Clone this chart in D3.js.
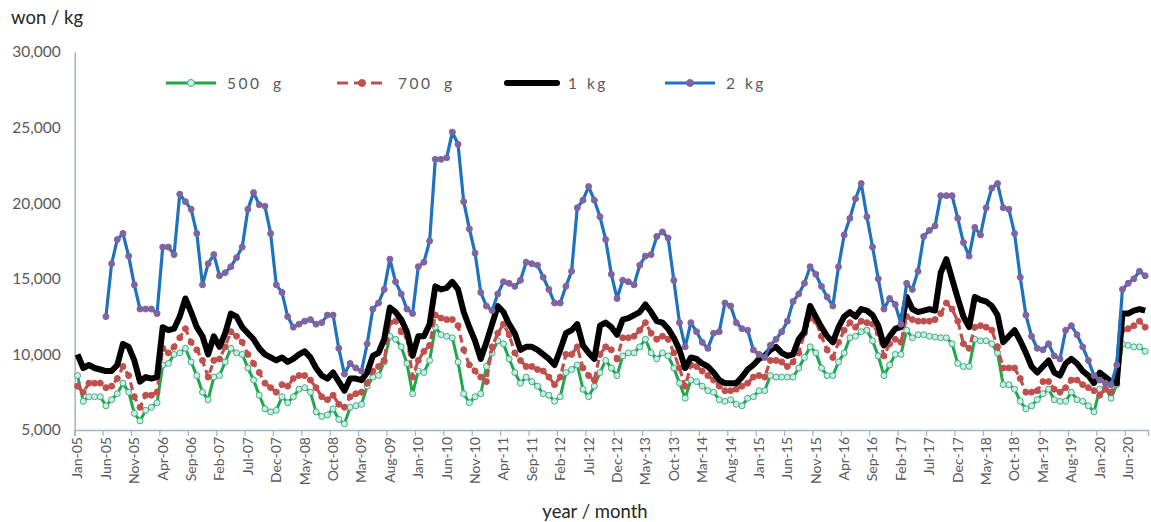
<!DOCTYPE html>
<html>
<head>
<meta charset="utf-8">
<script src="https://cdn.jsdelivr.net/npm/d3@7/dist/d3.min.js"></script>
<style>
  body { margin: 0; background: #fff; }
  text { font-family: Lato, "Open Sans", sans-serif; }
</style>
</head>
<body>
<div id="chart"></div>
<script>
const monthNames = ["Jan","Feb","Mar","Apr","May","Jun","Jul","Aug","Sep","Oct","Nov","Dec"];
const yearLabels = ["05","06","07","08","09","10","11","12","13","14","15","16","17","18","19","20"];

// Jan-05 .. Sep-20
const months = [];
yearLabels.forEach(yy => monthNames.forEach(m => months.push(m + "-" + yy)));
months.splice(months.indexOf("Sep-20") + 1);

const tickLabels = ["Jan-05","Jun-05","Nov-05","Apr-06","Sep-06","Feb-07","Jul-07","Dec-07","May-08","Oct-08",
  "Mar-09","Aug-09","Jan-10","Jun-10","Nov-10","Apr-11","Sep-11","Feb-12","Jul-12","Dec-12","May-13","Oct-13",
  "Mar-14","Aug-14","Jan-15","Jun-15","Nov-15","Apr-16","Sep-16","Feb-17","Jul-17","Dec-17","May-18","Oct-18",
  "Mar-19","Aug-19","Jan-20","Jun-20"];

const yTicks = [5000, 10000, 15000, 20000, 25000, 30000];

const price500g = [
  8600,6900,7200,7200,7200,6600,7000,7400,8100,7500,6100,5600,6300,6500,6800,9300,9400,10000,10100,10400,
  9500,8600,7500,7000,8500,8600,9500,10400,10100,10000,9100,8300,7300,6400,6200,6300,7200,6800,7200,7700,
  7800,7500,6200,5900,6000,6400,5700,5400,6500,6600,6700,7900,8500,8600,9500,11200,11000,10500,9400,7400,
  8900,8800,9600,11800,11300,11200,11100,9500,7400,6800,7200,7400,9200,10100,10900,10700,9700,8800,8100,8500,
  8200,7900,7400,7300,6900,7200,8800,9000,9300,7700,7200,7900,8800,9600,9100,8600,9900,10100,10100,10500,
  11000,10100,9700,10100,9900,9100,8100,7100,8300,8200,7900,7600,7500,7000,6900,7000,6700,6600,7100,7200,
  7600,7600,8600,8500,8500,8500,8500,9100,9800,10500,10100,9100,8600,8600,9500,10100,11100,11200,11500,11600,
  10900,9900,8600,9300,10000,10000,11600,11100,11300,11300,11200,11150,11100,11100,10700,9400,9200,9200,11000,10900,
  10900,10700,10100,8000,8000,7700,6900,6400,6600,7000,7400,7700,7000,6900,6900,7500,7000,6900,6600,6200,
  7700,7800,7100,8000,10700,10600,10500,10500,10200
];

const price700g = [
  7900,7500,8100,8100,8100,7800,7900,8400,9200,8600,7200,6500,7300,7300,7500,10400,10100,10500,11100,11700,
  10800,10300,9600,8500,9600,9700,10500,11500,11200,10800,10000,9400,8800,8100,7800,7500,8000,7900,8400,8600,
  8600,8300,7800,7200,7000,7300,6700,6500,7200,7400,7500,8100,8900,9200,9600,12100,12200,11500,11200,8500,
  9600,10200,10600,12600,12400,12300,12300,11900,10300,9300,8900,8500,8200,10500,11400,12000,11300,10100,9600,9200,
  9200,9000,8900,8500,8000,8500,10000,10000,10500,9100,8600,8300,10000,10500,10300,9700,11100,11100,11200,11600,
  12100,11400,11000,11200,11000,10100,9100,7900,9300,9200,8900,8600,8300,7900,7600,7600,7700,7900,8100,8500,
  8600,8500,9600,9600,9500,9200,9500,10100,11400,12400,12200,11200,10300,9800,10800,11600,12100,11800,12200,12100,
  12000,11400,9900,10700,11000,10800,12500,12300,12200,12200,12200,12300,12700,13400,13000,12200,10700,10400,11800,11900,
  11800,11600,10500,9100,9100,9100,8400,7500,7500,7600,8200,8200,7700,7500,7800,8300,8300,8000,7800,7600,
  7300,7700,7500,8100,11600,11700,11900,12200,11800
];

const price1kg = [
  10000,9100,9300,9100,9000,8900,8900,9300,10700,10500,9600,8200,8500,8400,8500,11800,11600,11700,12500,13700,
  12800,11800,11200,10000,11200,10500,11400,12700,12500,11800,11400,11000,10400,10000,9800,9600,9800,9500,9700,10000,
  10200,9800,9100,8600,8400,8800,8200,7600,8400,8400,8300,8800,9900,10100,11000,13100,12800,12300,11500,9900,
  11200,11200,12000,14500,14300,14400,14800,14300,12800,11800,10900,9700,10800,12000,13200,12800,12000,11400,10300,10500,
  10500,10300,10000,9700,9300,10300,11400,11600,12000,10600,10100,9700,11900,12100,11800,11300,12300,12400,12600,12800,
  13300,12800,12200,12100,11700,11100,10300,9100,9800,9700,9400,9200,8800,8300,8100,8100,8100,8500,9000,9300,
  9700,9900,10300,10500,10100,9900,10000,11000,11500,13200,12500,11800,11200,10800,11800,12500,12800,12500,13000,12900,
  12600,11900,10600,11200,11700,11800,13800,13000,12800,12900,13000,12900,15400,16300,15000,13700,12500,11800,13800,13600,
  13500,13200,12600,10800,11200,11600,10900,10100,9200,8800,9200,9600,8800,8600,9400,9700,9400,8900,8600,8100,
  8800,8500,8200,8100,12700,12700,12900,13000,12900
];

const price2kg = [
  null,null,null,null,null,12500,16000,17600,18000,16500,14600,13000,13000,13000,12700,17100,17100,16600,20600,20100,
  19600,18000,14600,16000,16600,15200,15400,15800,16400,17100,19600,20700,19900,19800,18000,14600,14100,12500,11800,12000,
  12200,12300,12000,12100,12600,12600,10400,8700,9400,9100,8900,10700,13000,13400,14300,16300,14800,14000,13000,12700,
  15800,16100,17500,22900,22900,23000,24700,23900,20100,18300,16700,14100,13200,12900,14000,14800,14700,14500,14900,16100,
  16000,15900,15100,14300,13400,13400,14500,15500,19700,20200,21100,20200,19100,17600,15300,13700,14900,14800,14600,15900,
  16500,16600,17800,18100,17700,14900,12100,10500,12100,11500,10800,10400,11400,11500,13400,13200,12100,11700,11600,10300,
  10000,9800,10600,11000,11500,12200,13500,14000,14700,15800,15300,14500,13800,13200,15800,17900,19000,20300,21300,19100,
  17100,15000,13000,13700,13300,12000,14700,14300,15500,17800,18200,18500,20500,20500,20500,19000,17400,16500,18400,17900,
  19700,21000,21300,19700,19600,18000,15100,12600,11200,10400,10300,10700,9900,9700,11600,11900,11300,10500,9600,8600,
  8300,8100,8000,9300,14300,14700,15000,15500,15200
];

const width = 1151, height = 522;
const plotLeft = 74.7, plotRight = 1148, plotTop = 52, plotBottom = 430;
const axisColor = "#9fb4c8", labelColor = "#595959";

const svg = d3.select("#chart")
  .append("svg")
  .attr("width", width)
  .attr("height", height);

const x = d3.scaleBand()
  .domain(months)
  .range([plotLeft, plotRight])
  .padding(0);
const bw = x.bandwidth();
const cx = i => x(months[i]) + bw / 2;

const y = d3.scaleLinear()
  .domain([5000, 30000])
  .range([plotBottom, plotTop]);

// Titles
svg.append("text")
  .attr("x", 11).attr("y", 24)
  .style("font-size", "18.5px").style("fill", "#262626")
  .text("won / kg");

svg.append("text")
  .attr("x", 595).attr("y", 518)
  .attr("text-anchor", "middle")
  .style("font-size", "18.5px").style("fill", "#262626")
  .text("year / month");

// Y axis
const yAxis = svg.append("g")
  .attr("transform", `translate(${plotLeft},0)`)
  .call(d3.axisLeft(y).tickValues(yTicks).tickSize(0).tickPadding(14).tickFormat(d3.format(",")));
yAxis.select(".domain").attr("stroke", axisColor).attr("stroke-width", 1.5);
yAxis.selectAll("text").style("font-size", "15.5px").style("fill", labelColor).style("font-family", "Lato, sans-serif");

// X axis
const xAxis = svg.append("g")
  .attr("transform", `translate(0,${plotBottom})`)
  .call(d3.axisBottom(x).tickValues(tickLabels).tickSizeOuter(0).tickSize(6));
xAxis.select(".domain").attr("stroke", axisColor).attr("stroke-width", 1.5);
xAxis.selectAll(".tick line")
  .attr("stroke", axisColor).attr("stroke-width", 1.2)
  .attr("transform", `translate(${-bw / 2},0)`);
xAxis.selectAll(".tick text")
  .attr("transform", "rotate(-90)")
  .attr("x", -7).attr("y", 0).attr("dy", "0.35em")
  .attr("text-anchor", "end")
  .style("font-size", "14px").style("fill", labelColor).style("font-family", "Lato, sans-serif");

// Series
const series = [
  { name: "500 g", values: price500g, stroke: "#1fa84a", width: 3, dash: null, marker: { fill: "#cdeee6", stroke: "#3daf83" } },
  { name: "700 g", values: price700g, stroke: "#c0504d", width: 3.2, dash: "8,4", marker: { fill: "#c0504d", stroke: "#c0504d" } },
  { name: "1 kg", values: price1kg, stroke: "#000000", width: 6, dash: null, marker: null },
  { name: "2 kg", values: price2kg, stroke: "#1f72bd", width: 3.2, dash: null, marker: { fill: "#8064a2", stroke: "#8064a2" } }
];

const line = d3.line()
  .defined(d => d != null)
  .x((d, i) => cx(i))
  .y(d => y(d));

series.forEach(s => {
  const g = svg.append("g");
  g.append("path")
    .datum(s.values)
    .attr("d", line)
    .attr("fill", "none")
    .attr("stroke", s.stroke)
    .attr("stroke-width", s.width)
    .attr("stroke-linejoin", "round")
    .attr("stroke-dasharray", s.dash);
  if (s.marker) {
    g.selectAll("circle")
      .data(s.values.map((v, i) => ({ v, i })).filter(d => d.v != null))
      .enter()
      .append("circle")
      .attr("cx", d => cx(d.i))
      .attr("cy", d => y(d.v))
      .attr("r", 3)
      .attr("fill", s.marker.fill)
      .attr("stroke", s.marker.stroke)
      .attr("stroke-width", 1);
  }
});

// Legend
const legendX = [166, 337, 507, 665];
const legend = svg.append("g");
series.forEach((s, k) => {
  const lg = legend.append("g").attr("transform", `translate(${legendX[k]},83)`);
  lg.append("line")
    .attr("x1", 0).attr("x2", 50)
    .attr("stroke", s.stroke)
    .attr("stroke-width", s.width)
    .attr("stroke-linecap", s.marker ? "butt" : "round")
    .attr("stroke-dasharray", s.dash ? "11,6" : null);
  if (s.marker) {
    lg.append("circle")
      .attr("cx", 25).attr("r", 3.5)
      .attr("fill", s.marker.fill)
      .attr("stroke", s.marker.stroke);
  }
  lg.append("text")
    .attr("x", 61).attr("dy", "0.36em")
    .style("font-size", "15.5px")
    .style("letter-spacing", "2.5px")
    .style("word-spacing", k >= 2 ? "1px" : "5px")
    .style("fill", labelColor)
    .text(s.name);
});
</script>
</body>
</html>
